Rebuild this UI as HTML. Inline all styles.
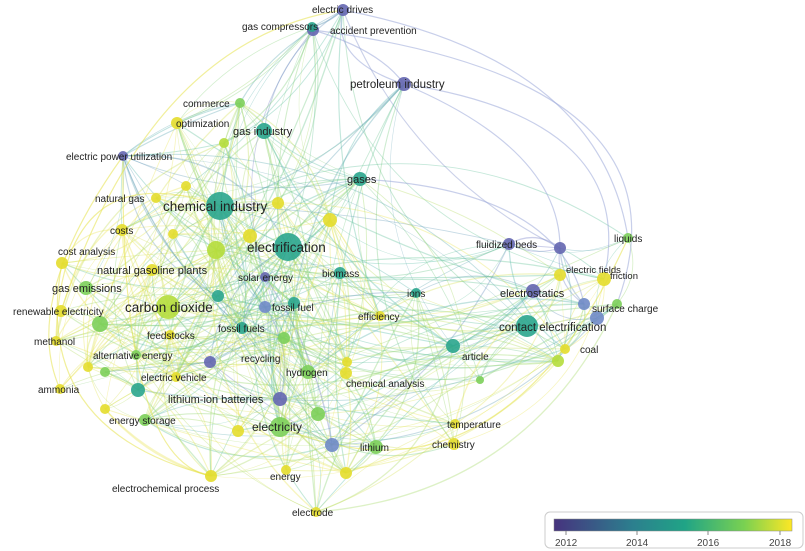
<!DOCTYPE html>
<html><head><meta charset="utf-8"><style>
html,body{margin:0;padding:0;background:#fff;width:805px;height:551px;overflow:hidden}
svg{display:block}
text{font-family:"Liberation Sans","DejaVu Sans",sans-serif;fill:#222}
</style></head><body>
<svg id="s" width="805" height="551" viewBox="0 0 805 551" xmlns="http://www.w3.org/2000/svg">
<defs><linearGradient id="vg" x1="0" x2="1"><stop offset="0" stop-color="#46337e"/><stop offset="0.33" stop-color="#2c7f8e"/><stop offset="0.55" stop-color="#20a486"/><stop offset="0.8" stop-color="#7ad151"/><stop offset="1" stop-color="#fde725"/></linearGradient></defs>
<g id="edges" fill="none"></g>
<g id="nodes"></g>
<g id="labels"></g>
<rect x="545" y="512" width="258" height="36" rx="5" fill="#fff" stroke="#ccc"/>
<rect x="554" y="519" width="238" height="12" fill="url(#vg)" stroke="#888" stroke-width="0.5"/>
<g stroke="#888"><line x1="566" y1="531" x2="566" y2="535"/><line x1="637" y1="531" x2="637" y2="535"/><line x1="708" y1="531" x2="708" y2="535"/><line x1="780" y1="531" x2="780" y2="535"/></g>
<g font-size="10"><text x="555" y="546" style="fill:#444">2012</text><text x="626" y="546" style="fill:#444">2014</text><text x="697" y="546" style="fill:#444">2016</text><text x="769" y="546" style="fill:#444">2018</text></g>
</svg>
<script>
var C={p:"#6466b0",b:"#6f8ac6",t:"#2aa58d",g:"#7ccf5a",l:"#b5dd3c",y:"#e4dd2c"};
var V={p:0,b:0.2,t:0.45,g:0.7,l:0.85,y:1};
var N=[
[343,10,6,"p","electric drives",312,13,10],
[313,30,6,"p","accident prevention",330,34,10],
[312,27,5,"t","gas compressors",242,30,10],
[404,84,7,"p","petroleum industry",350,88,11.5],
[240,103,5,"g","commerce",183,107,10],
[177,123,6,"y","optimization",176,127,10],
[264,131,8,"t","gas industry",233,135,11],
[123,156,5,"p","electric power utilization",66,160,10],
[360,179,7,"t","gases",347,183,11],
[156,198,5,"y","natural gas",95,202,10],
[220,206,14,"t","chemical industry",163,211,13.5],
[288,247,14,"t","electrification",247,252,13.5],
[122,230,6,"y","costs",110,234,10],
[62,263,6,"y","cost analysis",58,255,10],
[152,270,6,"y","natural gasoline plants",97,274,11],
[265,277,5,"p","solar energy",238,281,10],
[340,273,6,"t","biomass",322,277,10],
[86,288,7,"g","gas emissions",52,292,11],
[168,307,12,"l","carbon dioxide",125,312,13.5],
[61,311,6,"y","renewable electricity",13,315,10],
[265,307,6,"b","fossil fuel",272,311,10],
[294,303,6,"t","",0,0,0],
[380,316,5,"y","efficiency",358,320,10],
[170,335,5,"y","feedstocks",147,339,10],
[242,328,6,"t","fossil fuels",218,332,10],
[56,341,5,"y","methanol",34,345,10],
[136,355,5,"g","alternative energy",93,359,10],
[210,362,6,"p","recycling",241,362,10],
[308,372,7,"g","hydrogen",286,376,10],
[346,373,6,"y","chemical analysis",346,387,10],
[176,377,5,"y","electric vehicle",141,381,10],
[60,389,5,"y","ammonia",38,393,10],
[280,399,7,"p","lithium-ion batteries",168,403,11],
[138,390,7,"t","",0,0,0],
[145,420,6,"g","energy storage",109,424,10],
[105,409,5,"y","",0,0,0],
[280,427,10,"g","electricity",252,431,12],
[238,431,6,"y","",0,0,0],
[318,414,7,"g","",0,0,0],
[376,447,7,"g","lithium",360,451,10],
[332,445,7,"b","",0,0,0],
[346,473,6,"y","",0,0,0],
[286,470,5,"y","energy",270,480,10],
[211,476,6,"y","electrochemical process",112,492,10],
[316,512,5,"y","electrode",292,516,10],
[455,424,5,"y","temperature",447,428,10],
[454,444,6,"y","chemistry",432,448,10],
[416,293,5,"t","ions",407,297,10],
[453,346,7,"t","article",462,360,10],
[527,326,11,"t","contact electrification",499,331,11.5],
[565,349,5,"y","coal",580,353,10],
[533,291,7,"p","electrostatics",500,297,11],
[509,244,6,"p","fluidized beds",476,248,10],
[560,248,6,"p","",0,0,0],
[560,275,6,"y","electric fields",566,273,9.5],
[604,279,7,"y","friction",610,279,9.5],
[628,238,5,"g","liquids",614,242,10],
[584,304,6,"b","surface charge",592,312,10],
[597,318,7,"b","",0,0,0],
[617,304,5,"g","",0,0,0],
[216,250,9,"l","",0,0,0],
[100,324,8,"g","",0,0,0],
[330,220,7,"y","",0,0,0],
[278,203,6,"y","",0,0,0],
[186,186,5,"y","",0,0,0],
[173,234,5,"y","",0,0,0],
[250,236,7,"y","",0,0,0],
[218,296,6,"t","",0,0,0],
[284,338,6,"g","",0,0,0],
[224,143,5,"l","",0,0,0],
[105,372,5,"g","",0,0,0],
[88,367,5,"y","",0,0,0],
[347,362,5,"y","",0,0,0],
[558,361,6,"l","",0,0,0],
[480,380,4,"g","",0,0,0]
];
function vcol(v){var s=[[0,[120,130,200]],[0.45,[90,190,170]],[0.7,[150,215,110]],[1,[235,230,90]]];for(var i=1;i<s.length;i++){if(v<=s[i][0]){var a=s[i-1],b=s[i],f=(v-a[0])/(b[0]-a[0]);return "rgb("+[0,1,2].map(function(j){return Math.round(a[1][j]+(b[1][j]-a[1][j])*f)}).join(",")+")";}}return "rgb(235,230,90)";}
var ns="http://www.w3.org/2000/svg",E=document.getElementById("edges"),G=document.getElementById("nodes"),L=document.getElementById("labels");
var seed=7;function rnd(){seed=(seed*16807)%2147483647;return seed/2147483647;}
var cnt=0,tries=0;
while(cnt<540&&tries<30000){tries++;
 var a=N[Math.floor(rnd()*N.length)],b=N[Math.floor(rnd()*N.length)];
 if(a===b)continue;
 var dx=b[0]-a[0],dy=b[1]-a[1],d=Math.sqrt(dx*dx+dy*dy);
 var w=(a[2]+b[2])/14;
 if(rnd()>Math.min(1,w*Math.exp(-d/180)))continue;
 cnt++;
 var mx=(a[0]+b[0])/2,my=(a[1]+b[1])/2,bend=(rnd()-0.5)*0.7;
 var p=document.createElementNS(ns,"path");
 p.setAttribute("d","M"+a[0]+","+a[1]+" Q"+(mx-dy*bend)+","+(my+dx*bend)+" "+b[0]+","+b[1]);
 var v=(V[a[3]]+V[b[3]])/2+(rnd()-0.5)*0.2;
 p.setAttribute("stroke",vcol(Math.max(0,Math.min(1,v))));p.setAttribute("stroke-opacity","0.38");p.setAttribute("stroke-width",(0.5+rnd()*0.9).toFixed(2));
 E.appendChild(p);
}
var arcs=["M343,10 Q600,60 628,238","M404,84 Q640,120 604,279","M313,30 Q700,80 617,304","M220,206 Q60,150 56,341","M123,156 Q20,300 60,389","M211,476 Q30,430 62,263","M343,10 Q150,40 61,311","M404,84 Q560,150 560,248","M360,179 Q560,190 584,304","M280,427 Q500,520 628,238","M211,476 Q120,460 123,156","M343,10 Q330,60 404,84","M313,30 Q380,50 404,84"];
arcs.forEach(function(d,i){var p=document.createElementNS(ns,"path");p.setAttribute("d",d);p.setAttribute("stroke",(i<3||i==7||i==8||i>10)?"#9aa8d8":"#e6e24a");p.setAttribute("stroke-opacity","0.55");p.setAttribute("stroke-width","1.2");E.appendChild(p);});
N.forEach(function(n){
 var c=document.createElementNS(ns,"circle");c.setAttribute("cx",n[0]);c.setAttribute("cy",n[1]);c.setAttribute("r",n[2]);c.setAttribute("fill",C[n[3]]);c.setAttribute("fill-opacity","0.9");G.appendChild(c);
 if(n[4]){var t=document.createElementNS(ns,"text");t.setAttribute("x",n[5]);t.setAttribute("y",n[6]);t.setAttribute("font-size",n[7]);t.textContent=n[4];L.appendChild(t);}
});
</script>
</body></html>
